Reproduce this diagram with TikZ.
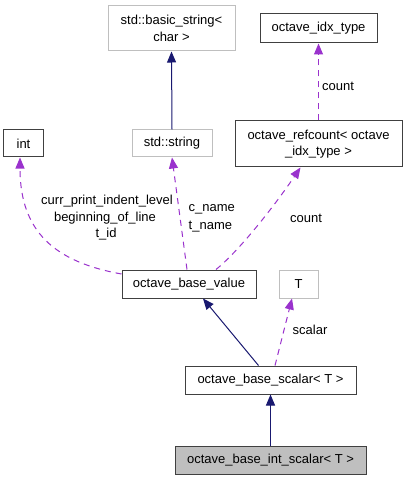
\documentclass[tikz,border=0pt]{standalone}
\usepackage{fontspec}
\setmainfont{Liberation Sans}
\usetikzlibrary{arrows.meta,calc}
\definecolor{navy}{HTML}{191970}
\definecolor{purp}{HTML}{9A32CD}
\definecolor{lgray}{HTML}{BFBFBF}
\definecolor{dgray}{HTML}{404040}
\begin{document}
\begin{tikzpicture}[x=1bp,y=-1bp,
  font=\fontsize{13bp}{16.5bp}\selectfont,
  box/.style={draw=dgray,line width=1bp,fill=white,inner sep=0pt,align=center},
  gbox/.style={box,draw=lgray},
  inh/.style={draw=navy,line width=1bp,-{Triangle[length=11bp,width=9bp]}},
  use/.style={draw=purp,line width=1bp,dash pattern=on 6bp off 5bp,-{Triangle[length=11bp,width=9bp]}},
  lbl/.style={inner sep=0pt,align=center}]
\path[use as bounding box] (0,0) rectangle (407,480);
\fill[white] (0,0) rectangle (407,480);
% nodes
\node[gbox,minimum width=127bp,minimum height=45bp] (bs) at (171.5,28.5) {std::basic\_string<\\char >};
\node[box,minimum width=117bp,minimum height=29bp] (idx) at (318.5,28.5) {octave\_idx\_type};
\node[box,minimum width=39bp,minimum height=27bp] (int) at (23.5,143.5) {int};
\node[gbox,minimum width=80bp,minimum height=27bp] (str) at (172,143.5) {std::string};
\node[box,minimum width=167bp,minimum height=46bp] (rc) at (318.5,144) {octave\_refcount< octave\\\_idx\_type >};
\node[box,minimum width=134bp,minimum height=28bp] (obv) at (189,284) {octave\_base\_value};
\node[gbox,minimum width=39bp,minimum height=28bp] (T) at (298.5,284) {T};
\node[box,minimum width=171bp,minimum height=28bp] (obs) at (270.5,380) {octave\_base\_scalar< T >};
\node[box,fill=lgray,minimum width=191bp,minimum height=28bp] (obis) at (270.5,460) {octave\_base\_int\_scalar< T >};
% edges
\draw[inh] (str.north) -- (bs.south);
\draw[use] (rc.north) -- (idx.south);
\draw[use] ([yshift=10bp]obv.west) .. controls (55,262) and (20,232) .. ([xshift=-3.5bp]int.south);
\draw[use] ([xshift=-2bp]obv.north) -- (str.south);
\draw[use] ([xshift=27bp]obv.north) .. controls (240,250) and (275,205) .. ([xshift=-18bp]rc.south);
\draw[inh] ([xshift=-12bp]obs.north) -- ([xshift=14bp]obv.south);
\draw[use] ([xshift=4.5bp]obs.north) -- ([xshift=-6.5bp]T.south);
\draw[inh] (obis.north) -- (obs.south);
% labels
\node[lbl] (l1) at (338,86) {count};
\node[lbl] (l2) at (107,201) {curr\_print\_indent\_level};
\node[lbl] (l3) at (105,218) {beginning\_of\_line};
\node[lbl] (l4) at (106,234) {t\_id};
\node[lbl,anchor=west] (l5) at (188.5,209) {c\_name};
\node[lbl,anchor=west] (l6) at (188.5,227) {t\_name};
\node[lbl] (l7) at (306,218) {count};
\node[lbl] (l8) at (310,330) {scalar};
\end{tikzpicture}
\end{document}
